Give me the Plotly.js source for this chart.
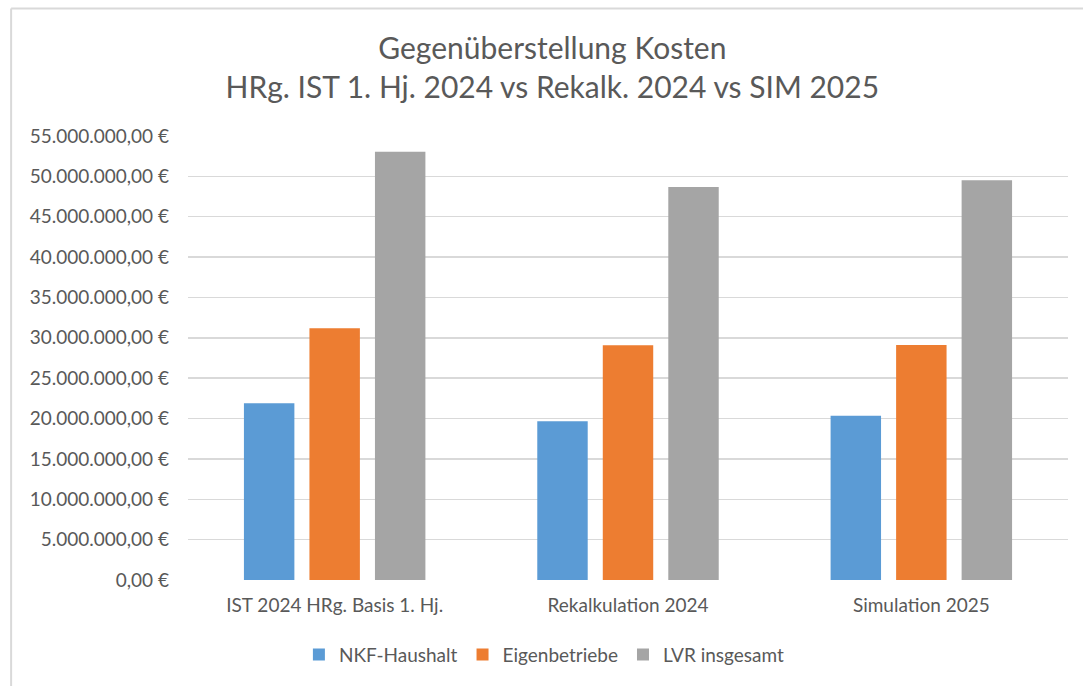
<!DOCTYPE html>
<html>
<head>
<meta charset="utf-8">
<script src="https://cdn.plot.ly/plotly-3.0.1.min.js"></script>
<style>
  html, body { margin: 0; padding: 0; background: #fff; }
  #chart { width: 1083px; height: 686px; }
</style>
</head>
<body>
<div id="chart"></div>
<script>
const CATEGORIES = ['IST 2024 HRg. Basis 1. Hj.', 'Rekalkulation 2024', 'Simulation 2025'];
const NKF_HAUSHALT = [21890000, 19670000, 20360000];
const EIGENBETRIEBE = [31180000, 29080000, 29120000];
const LVR_INSGESAMT = [53060000, 48670000, 49530000];
const TICK_VALUES = [0, 5e6, 10e6, 15e6, 20e6, 25e6, 30e6, 35e6, 40e6, 45e6, 50e6, 55e6];
const TICK_LABELS = ['0,00 €', '5.000.000,00 €', '10.000.000,00 €', '15.000.000,00 €',
  '20.000.000,00 €', '25.000.000,00 €', '30.000.000,00 €', '35.000.000,00 €',
  '40.000.000,00 €', '45.000.000,00 €', '50.000.000,00 €', '55.000.000,00 €'];

const COLORS = { nkf: '#5B9BD5', eigen: '#ED7D31', lvr: '#A5A5A5' };
const FONT = 'Lato, "Open Sans", sans-serif';
const TEXT = '#595959';

const traces = [
  { x: CATEGORIES, y: NKF_HAUSHALT, name: 'NKF-Haushalt', type: 'bar', marker: { color: COLORS.nkf } },
  { x: CATEGORIES, y: EIGENBETRIEBE, name: 'Eigenbetriebe', type: 'bar', marker: { color: COLORS.eigen } },
  { x: CATEGORIES, y: LVR_INSGESAMT, name: 'LVR insgesamt', type: 'bar', marker: { color: COLORS.lvr } },
];

const layout = {
  width: 1083, height: 686,
  paper_bgcolor: '#fff', plot_bgcolor: '#fff',
  font: { family: FONT, size: 18, color: TEXT },
  margin: { t: 136, r: 15, b: 104, l: 188 },
  title: {
    text: 'Gegenüberstellung Kosten<br>HRg. IST 1. Hj. 2024 vs Rekalk. 2024 vs SIM 2025',
    font: { family: FONT, size: 30, color: TEXT, lineposition: 'none' },
    x: 0.51, xanchor: 'center', y: 0.914, yanchor: 'middle',
  },
  barmode: 'group',
  bargap: 0.33,
  bargroupgap: 0.23,
  xaxis: {
    showgrid: false, zeroline: false, showline: false,
    tickfont: { size: 19, color: TEXT }, ticks: '', ticklabelstandoff: 12,
  },
  yaxis: {
    range: [0, 55e6], tickvals: TICK_VALUES, ticktext: TICK_LABELS,
    gridcolor: '#D9D9D9', gridwidth: 1.5, zeroline: false, showline: false,
    tickfont: { size: 19, color: TEXT }, ticks: '', ticklabelstandoff: 18,
  },
  legend: {
    orientation: 'h', x: 0.405, xanchor: 'center', y: -0.168, yanchor: 'middle',
    font: { size: 19, color: TEXT }, itemwidth: 30,
  },
  shapes: [
    { type: 'line', xref: 'paper', yref: 'paper', x0: -0.201, x1: 1.05, y0: 1.287, y1: 1.287,
      line: { color: '#D9D9D9', width: 2 } },
    { type: 'line', xref: 'paper', yref: 'paper', x0: -0.201, x1: -0.201, y0: 1.287, y1: -0.3,
      line: { color: '#D9D9D9', width: 2 } },
  ],
  showlegend: true,
};

Plotly.newPlot('chart', traces, layout, { displayModeBar: false, staticPlot: true });
</script>
</body>
</html>
